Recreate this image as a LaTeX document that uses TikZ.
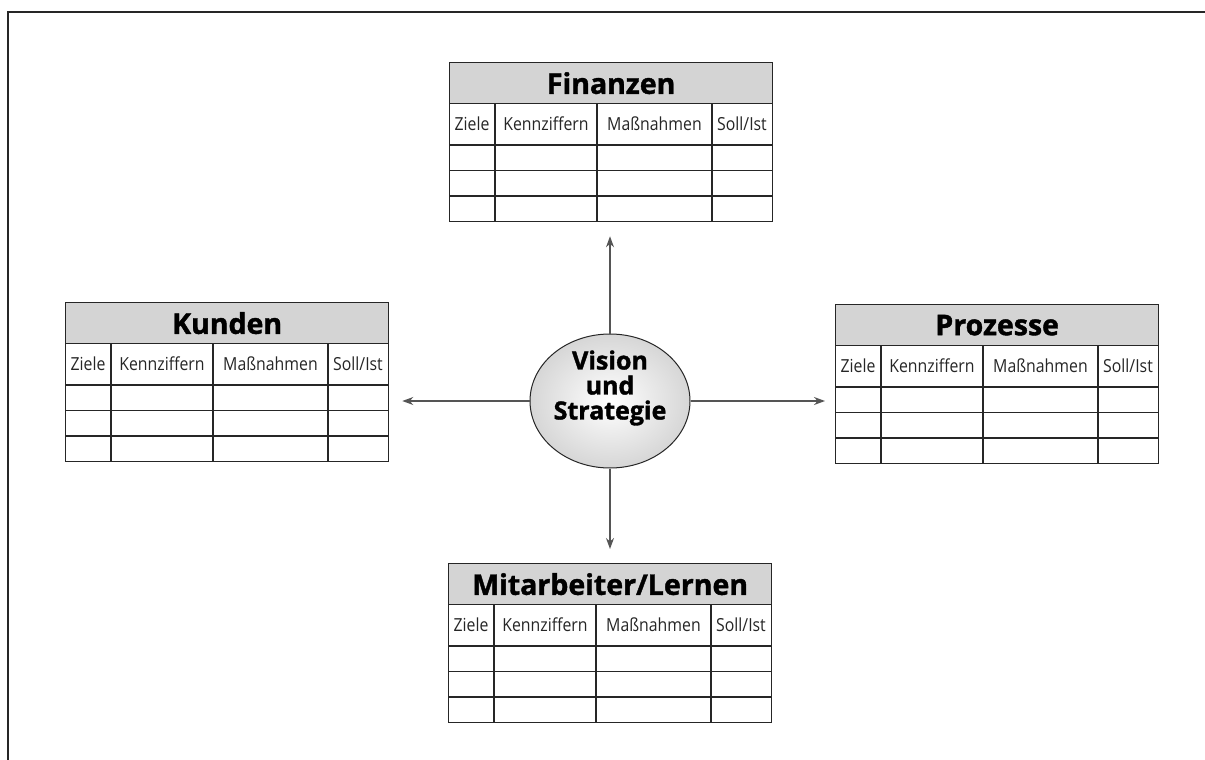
\documentclass[tikz,border=0pt]{standalone}
\usepackage{fontspec}
\setmainfont{Open Sans}
\newfontfamily\heavyfont{Open Sans}[BoldFeatures={FakeBold=1.4}]
\newfontfamily\narrowfont{Open Sans}[FakeStretch=0.88]
\usetikzlibrary{shapes.geometric,arrows.meta,calc}
\definecolor{lineC}{HTML}{262626}
\definecolor{titleC}{HTML}{D4D4D4}
\definecolor{arrC}{HTML}{555555}
\tikzset{
  tabbox/.style={draw=lineC, line width=1.3pt, minimum width=323pt, minimum height=159pt, inner sep=0pt},
  titlebar/.style={draw=lineC, fill=titleC, line width=1.3pt, minimum width=323pt, minimum height=41pt, inner sep=0pt, font=\heavyfont\bfseries\fontsize{28.5}{30}\selectfont, text=black},
  hdr/.style={inner sep=0pt, font=\narrowfont\fontsize{18}{19}\selectfont, text=lineC},
  gridline/.style={draw=lineC, line width=1.1pt},
  arr/.style={draw=arrC, line width=1.2pt, -{Stealth[length=11pt,width=8pt]}, color=arrC},
  visbox/.style={ellipse, draw=lineC, line width=1pt, minimum width=160pt, minimum height=134pt, inner sep=0pt, inner color=white, outer color=gray!32},
  vistext/.style={align=center, font=\heavyfont\bfseries\fontsize{25}{25}\selectfont, text=black, inner sep=0pt},
  frameline/.style={draw=lineC, line width=1.5pt}
}
\newcommand\bsctab[4]{%
\begin{scope}[shift={(#2,#3)}]
  \node[tabbox, anchor=north west] (#1) at (0,0) {};
  \node[titlebar, anchor=north west] (#1-title) at (0,0) {#4};
  \node[hdr] (#1-h1) at (23,62) {Ziele};
  \node[hdr] (#1-h2) at (97,62) {Kennziffern};
  \node[hdr] (#1-h3) at (205.5,62) {Maßnahmen};
  \node[hdr] (#1-h4) at (293,62) {Soll/Ist};
  \draw[gridline] (0,83) -- (323,83) (0,108.5) -- (323,108.5) (0,134) -- (323,134);
  \draw[gridline] (46,41) -- (46,159) (148,41) -- (148,159) (263,41) -- (263,159);
\end{scope}}
\begin{document}
\begin{tikzpicture}[x=1pt,y=-1pt]
  \useasboundingbox (0,0) rectangle (1205,760);
  \fill[white] (0,0) rectangle (1205,760);
  \draw[frameline] (8,760) -- (8,12) -- (1205,12);

  \bsctab{fin}{449}{62}{Finanzen}
  \bsctab{kun}{65}{302}{Kunden}
  \bsctab{pro}{835}{304}{Prozesse}
  \bsctab{mit}{448}{563}{Mitarbeiter/Lernen}

  \node[visbox] (vis) at (610,401) {};
  \node[vistext] (vis-text) at (610,388) {Vision\\und\\Strategie};

  \draw[arr, shorten >=14pt] (vis.north) -- (vis.north |- fin.south);
  \draw[arr, shorten >=14pt] (vis.south) -- (vis.south |- mit.north);
  \draw[arr, shorten >=13pt] (vis.west) -- (kun.east |- vis.west);
  \draw[arr, shorten >=10pt] (vis.east) -- (pro.west |- vis.east);
\end{tikzpicture}
\end{document}
